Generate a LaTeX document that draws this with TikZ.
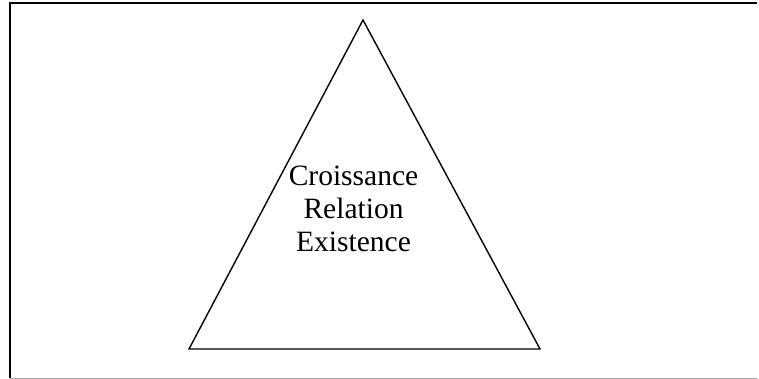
\documentclass[tikz,border=0pt]{standalone}
\usepackage{fontspec}
\setmainfont{Liberation Serif}
\usetikzlibrary{positioning}

\begin{document}
\begin{tikzpicture}[x=1pt,y=-1pt]
    \useasboundingbox (0,0) rectangle (759,379);
    % frame
    \draw[line width=2.2pt] (10,378) -- (10,3) -- (757,3);
    \draw[gray!70,line width=1pt] (10,378) -- (757,378);
    % triangle
    \coordinate (apex) at (363,20);
    \coordinate (left) at (189,349);
    \coordinate (right) at (540,349);
    \draw[line width=1.4pt,line join=miter] (apex) -- (left) -- (right) -- cycle;
    \node[
      align=center,
      inner sep=0pt,
      font=\fontsize{29.5}{33}\selectfont
    ] (erc) at (353.5,209) {%
      Croissance\\
      Relation\\
      Existence
    };
  \end{tikzpicture}
\end{document}
